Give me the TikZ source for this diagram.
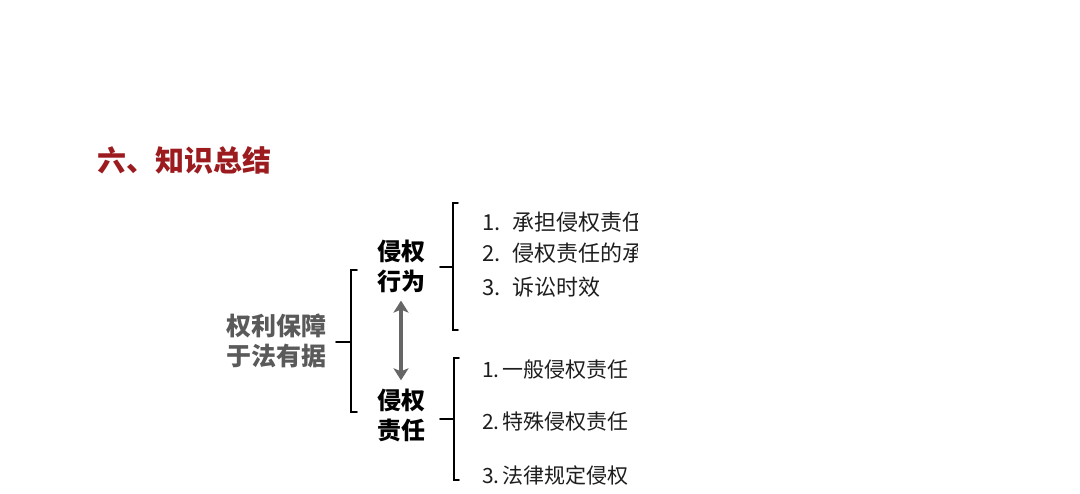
\documentclass[tikz,border=0pt]{standalone}
\usepackage{fontspec}
\newfontfamily\cjk{Noto Sans CJK SC}
\usetikzlibrary{arrows.meta}
\definecolor{titlered}{HTML}{9B1B1F}
\definecolor{rootgray}{HTML}{5A5A5A}
\definecolor{arrowgray}{HTML}{666666}
\definecolor{itemblack}{HTML}{1E1E1E}

\begin{document}
\begin{tikzpicture}[x=1pt, y=-1pt, font=\cjk,
    >={Stealth[length=12pt, width=15pt, inset=3pt]},
    brace/.style={line width=1.6pt, line cap=round},
    head/.style={font=\cjk\bfseries\fontsize{24}{30}\selectfont, align=center, inner sep=0pt},
    item/.style={anchor=west, inner sep=0pt, text=itemblack,
      font=\cjk\fontsize{21}{24}\selectfont}]
  \useasboundingbox[fill=white] (0,0) rectangle (1080,494);
  % title
  \node[anchor=west, inner sep=0pt, text=titlered,
    font=\cjk\bfseries\fontsize{29}{32}\selectfont] (title) at (97,160) {六、知识总结};
  % root and its bracket
  \node[head, text=rootgray, font=\cjk\bfseries\fontsize{25}{30}\selectfont] (root) at (276,341) {权利保障\\于法有据};
  \coordinate (rootb) at (351,342);
  \draw[brace] (rootb) -- ++(-15,0);
  \draw[brace] ([xshift=6pt, yshift=72pt]rootb) -- ++(-6,0) -- ++(0,142) -- ++(6,0);
  % the two topics
  \node[head] (act) at (401,266) {侵权\\行为};
  \node[head] (resp) at (401,415) {侵权\\责任};
  \draw[<->, line width=3.5pt, arrowgray, shorten <=8pt, shorten >=8pt] (act) -- (resp);
  % brackets of the topics
  \coordinate (actb) at (453,267);
  \draw[brace] (actb) -- ++(-13,0);
  \draw[brace] ([xshift=5pt, yshift=64pt]actb) -- ++(-5,0) -- ++(0,127) -- ++(5,0);
  \coordinate (respb) at (454,419);
  \draw[brace] (respb) -- ++(-14,0);
  \draw[brace] ([xshift=5pt, yshift=61pt]respb) -- ++(-5,0) -- ++(0,122) -- ++(5,0);
  % items, cut at the right edge as in the slide
  \begin{scope}
    \clip (460,190) rectangle (637,494);
    \node[item, font=\cjk\fontsize{22}{24}\selectfont] (a1) at (482,222) {1.\hspace{12pt}承担侵权责任};
    \node[item, font=\cjk\fontsize{22}{24}\selectfont] (a2) at (482,253) {2.\hspace{12pt}侵权责任的承};
    \node[item, font=\cjk\fontsize{22}{24}\selectfont] (a3) at (482,287) {3.\hspace{12pt}诉讼时效};
    \node[item] (r1) at (482,370) {1.\hspace{3pt}一般侵权责任};
    \node[item] (r2) at (482,422) {2.\hspace{3pt}特殊侵权责任};
    \node[item] (r3) at (482,475) {3.\hspace{3pt}法律规定侵权};
  \end{scope}
\end{tikzpicture}
\end{document}
